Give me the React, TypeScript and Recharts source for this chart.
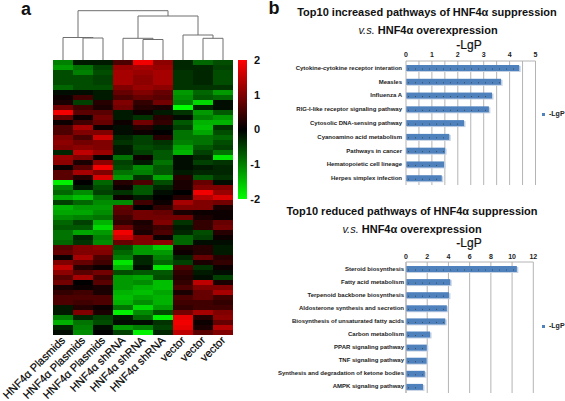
import { Bar, BarChart, Cell, Legend, Scatter, ScatterChart, XAxis, YAxis, CartesianGrid } from "recharts";

const FONT = '"Liberation Sans", Arial, sans-serif';
const BLUE = "#4f81bd";

// heatmap columns, left to right
const sampleLabels = [
  "HNF4α Plasmids", "HNF4α Plasmids", "HNF4α Plasmids",
  "HNF4α shRNA", "HNF4α shRNA", "HNF4α shRNA",
  "vector", "vector", "vector",
];

// z-scores, one line per band, top to bottom
const heatRows = [
  [-1.0, -0.2, -0.2, 0.6, 1.9, 1.1, -0.3, -0.8, -0.6],
  [-1.2, -0.9, -0.5, 1.2, 1.3, 1.2, -0.3, -0.3, -0.5],
  [-0.6, -1.0, -0.6, 1.3, 1.2, 1.3, -0.4, -0.3, -0.6],
  [-0.6, -0.6, -0.5, 1.3, 1.1, 1.3, -0.4, -0.3, -0.6],
  [-0.6, -0.6, -0.5, 1.3, 1.1, 1.3, -0.4, -0.3, -0.6],
  [-0.8, -0.6, -0.6, 1.0, 1.2, 1.1, -0.4, -0.4, -0.4],
  [-0.1, -0.1, -0.2, 0.8, 1.0, 0.8, -1.2, -0.8, -1.2],
  [0.1, 0.5, -0.2, 0.6, 0.8, 0.7, -1.1, -0.7, -0.8],
  [0.2, -0.5, 0.3, 1.0, 0.4, 0.9, -1.0, -1.7, -0.1],
  [0.9, 0.5, 0.2, 0.9, 0.3, 0.2, -2.0, -0.3, -0.1],
  [1.9, 0.7, 0.7, -0.2, 0.1, -0.2, -0.4, -1.2, -0.7],
  [0.8, 0.1, 0.9, -0.2, -0.4, 0.3, -0.1, -1.0, -1.2],
  [0.1, 0.5, 0.8, 0.1, 0.9, 0.4, -0.7, -1.4, -1.4],
  [0.6, 1.3, 0.1, -0.1, 0.3, -0.1, -0.5, -1.5, -0.4],
  [0.6, 1.0, 1.0, -0.1, 0.1, 0.0, -0.9, -1.3, -0.6],
  [1.0, 0.6, 1.6, -0.3, -0.5, 0.3, -0.9, -0.9, -0.8],
  [1.1, 0.9, 1.0, -0.4, -0.5, -0.4, -1.0, -0.9, -0.6],
  [1.0, 1.1, 1.0, -0.2, -0.6, -0.5, -1.3, -0.7, -0.5],
  [-0.3, 1.5, 1.2, -0.2, -0.5, -0.7, -1.4, -0.5, -0.9],
  [1.2, 1.0, 0.1, -0.9, 0.1, -0.7, -0.1, -0.3, -1.8],
  [1.1, 0.2, 1.1, -0.5, -0.2, -0.9, -0.1, -0.5, -0.4],
  [0.1, 0.7, 1.9, -0.6, -1.1, -0.7, -0.1, -0.2, -0.3],
  [0.7, 1.3, 1.0, -0.9, -1.0, -0.7, -0.2, -0.3, -0.3],
  [0.7, 0.3, 1.7, -1.2, -0.4, -1.3, 0.3, -0.7, -0.4],
  [-1.9, 0.0, -0.8, 0.3, 0.6, -0.6, 0.2, 0.8, -0.1],
  [-1.0, -0.2, -0.6, 0.1, -0.7, -0.3, 0.2, 1.0, 1.0],
  [-0.8, -1.1, -0.5, -0.4, -0.7, -0.1, 0.0, 1.9, 1.2],
  [-1.3, -1.5, -0.9, 0.1, -0.2, 0.0, 0.3, 1.4, 1.7],
  [-0.5, -0.8, -1.1, -1.1, 0.5, 0.1, 1.3, 1.0, 0.9],
  [-1.4, -1.2, -1.2, 0.8, 0.0, 0.4, 1.0, 1.0, 0.2],
  [-1.3, -1.3, -1.1, 0.7, 0.9, 0.8, 0.2, 0.1, 0.1],
  [-1.1, -1.0, -0.9, 0.5, 0.9, 0.9, 0.9, 0.2, 0.1],
  [-0.8, -0.5, -1.4, 0.4, 0.2, 1.0, -0.4, 0.4, 0.8],
  [-0.7, -0.7, -1.7, 0.9, 0.3, 0.5, -0.2, 0.4, 0.9],
  [-0.9, -1.3, -1.2, 1.9, 0.2, 0.6, -0.3, -0.6, 0.3],
  [-0.9, -0.3, -1.0, 1.6, 1.0, 0.1, -0.8, -0.5, 0.1],
  [-0.8, -0.4, -1.1, 0.8, 1.0, 1.1, -0.8, -0.1, -0.1],
  [0.7, 1.0, 1.1, -0.6, -1.2, -1.6, 0.2, 0.3, -0.2],
  [0.8, 1.0, 1.0, -0.8, -1.2, -1.2, 0.1, 0.3, -0.2],
  [0.1, 1.3, 0.6, -1.0, -0.3, -1.0, -0.3, 0.8, 0.3],
  [1.0, 0.8, 0.5, -1.8, -0.3, -0.8, -0.5, 0.2, 0.4],
  [1.5, 0.3, 0.1, -1.4, -0.1, -1.8, 0.6, -0.4, 0.1],
  [1.1, 0.7, 0.9, -0.6, -0.7, -0.7, 0.4, -0.2, -0.1],
  [0.7, 1.3, 0.5, -1.2, -1.3, -0.6, 0.3, -0.1, -0.5],
  [0.9, 0.0, 0.7, -1.2, -1.1, -1.5, 0.4, 1.5, 0.2],
  [0.2, 0.1, 0.2, -1.2, -1.4, -1.5, 0.6, 1.0, 1.0],
  [0.4, 0.5, 0.2, -1.4, -1.5, -1.3, 0.2, 0.8, 1.3],
  [0.6, 0.6, 0.6, -1.5, -1.3, -1.4, 0.6, 0.8, 0.5],
  [0.6, 0.5, 0.6, -1.4, -1.1, -1.4, 0.5, 0.5, 0.4],
  [-0.2, 0.3, 0.1, -0.9, -1.7, -1.2, 0.4, 0.5, 0.5],
  [-0.2, 1.0, 0.2, -1.9, -1.1, -0.6, 0.9, 1.3, 1.0],
  [-1.0, -0.3, -0.5, -0.2, -0.8, -1.9, 1.8, 0.3, 1.1],
  [-1.4, -0.9, -0.6, -0.1, -0.1, -0.4, 1.9, 0.1, 0.8],
  [-0.3, -1.0, -0.1, -1.2, -1.0, -0.5, 1.8, 0.2, 1.4],
  [-0.1, -1.1, 0.0, -0.5, -1.9, -0.3, 1.5, 0.7, 1.0],
];

// dendrogram merges: [left x, left height, merge height, right x, right height]
const dendroMerges = [
  [1.5, 0, 22, 2.5, 0],
  [0.5, 0, 22.5, 2, 22],
  [4.5, 0, 20.5, 5.5, 0],
  [3.5, 0, 21.7, 5, 20.5],
  [7.5, 0, 21.7, 8.5, 0],
  [6.5, 0, 25, 8, 21.7],
  [4.25, 21.7, 44, 7.25, 25],
  [1.25, 22.5, 49.3, 5.75, 44],
];

const scaleTicks = [-2, -1, 0, 1, 2];

const increasedNames = [
  "Cytokine-cytokine receptor interation",
  "Measles",
  "Influenza A",
  "RIG-I-like receptor signaling pathway",
  "Cytosolic DNA-sensing pathway",
  "Cyanoamino acid metabolism",
  "Pathways in cancer",
  "Hematopoietic cell lineage",
  "Herpes simplex infection",
];
const increasedValues = [4.37, 3.67, 3.32, 3.2, 2.24, 1.67, 1.51, 1.47, 1.38];
const increasedTicks = [0, 1, 2, 3, 4, 5];
const increasedGrid = [0.5, 1, 1.5, 2, 2.5, 3, 3.5, 4, 4.5, 5];

const reducedNames = [
  "Steroid biosynthesis",
  "Fatty acid metabolism",
  "Terpenoid backbone biosynthesis",
  "Aldosterone synthesis and secretion",
  "Biosynthesis of unsaturated fatty acids",
  "Carbon metabolism",
  "PPAR signaling pathway",
  "TNF signaling pathway",
  "Synthesis and degradation of ketone bodies",
  "AMPK signaling pathway",
];
const reducedValues = [10.45, 4.17, 4.05, 3.85, 3.7, 2.27, 1.96, 1.94, 1.77, 1.6];
const reducedTicks = [0, 2, 4, 6, 8, 10, 12];

const heatColor = (v: number) =>
  v >= 0 ? `rgb(${Math.round(127.5 * v)},0,0)` : `rgb(0,${Math.round(-127.5 * v)},0)`;

const heatTable = heatRows.map((_, i) => {
  const row: Record<string, number> = { row: i };
  sampleLabels.forEach((_, c) => (row[`c${c}`] = 1));
  return row;
});

function Heatmap() {
  return (
    <div style={{ position: "absolute", left: 0, top: 0 }}>
      <BarChart
        width={260}
        height={401}
        layout="vertical"
        data={heatTable}
        barCategoryGap={0}
        barGap={0}
        margin={{ top: 60, left: 53, right: 27, bottom: 0 }}
      >
        <XAxis
          type="number"
          domain={[0, 9]}
          ticks={[0.5, 1.5, 2.5, 3.5, 4.5, 5.5, 6.5, 7.5, 8.5]}
          interval={0}
          height={66}
          axisLine={false}
          tickLine={false}
          tick={(p: any) => (
            <text
              x={p.x + 3}
              y={341}
              transform={`rotate(-45 ${p.x + 3} 341)`}
              textAnchor="end"
              fontFamily={FONT}
              fontSize={11}
              fill="#000"
              stroke="#000"
              strokeWidth={0.2}
            >
              {sampleLabels[Math.floor(p.payload.value)]}
            </text>
          )}
        />
        <YAxis type="category" dataKey="row" hide />
        {sampleLabels.map((_, c) => (
          <Bar key={c} dataKey={`c${c}`} stackId="heat" isAnimationActive={false}>
            {heatRows.map((row, i) => (
              <Cell key={i} fill={heatColor(row[c])} />
            ))}
          </Bar>
        ))}
      </BarChart>
    </div>
  );
}

function Dendrogram() {
  return (
    <div style={{ position: "absolute", left: 53, top: 10 }}>
      <ScatterChart width={180} height={50} margin={{ top: 0, right: 0, bottom: 0, left: 0 }}>
        <XAxis type="number" dataKey="x" domain={[0, 9]} hide />
        <YAxis type="number" dataKey="y" domain={[0, 50]} hide />
        {dendroMerges.map(([x1, h1, top, x2, h2], i) => (
          <Scatter
            key={i}
            data={[
              { x: x1, y: h1 },
              { x: x1, y: top },
              { x: x2, y: top },
              { x: x2, y: h2 },
            ]}
            line={{ stroke: "#6e6e6e", strokeWidth: 1 }}
            shape={() => <g />}
            isAnimationActive={false}
          />
        ))}
      </ScatterChart>
    </div>
  );
}

function ColorScale() {
  return (
    <div style={{ position: "absolute", left: 238, top: 50 }}>
      <BarChart
        width={30}
        height={159}
        data={[{ name: "z", range: [-2, 2] }]}
        barCategoryGap={0}
        margin={{ top: 10, right: 0, bottom: 10, left: 0 }}
      >
        <defs>
          <linearGradient id="redGreen" x1="0" y1="0" x2="0" y2="1">
            <stop offset="0%" stopColor="#ff0000" />
            <stop offset="50%" stopColor="#000000" />
            <stop offset="100%" stopColor="#00ff00" />
          </linearGradient>
        </defs>
        <XAxis dataKey="name" hide />
        <YAxis
          orientation="right"
          type="number"
          domain={[-2, 2]}
          ticks={scaleTicks}
          width={21}
          axisLine={false}
          tickLine={false}
          tick={{ fontFamily: FONT, fontSize: 11, fontWeight: 700, fill: "#111", textAnchor: "end", dx: 5 }}
        />
        <Bar dataKey="range" fill="url(#redGreen)" isAnimationActive={false} />
      </BarChart>
    </div>
  );
}

// bar with its soft shadow and the row of dots that runs along the middle
function DottedBar({ x, y, width, height, fill }: any) {
  return (
    <g>
      <rect x={x + 1} y={y + 1} width={width + 0.5} height={height} fill="#c5d2e4" />
      <rect x={x} y={y} width={width} height={height} fill={fill} />
      <line
        x1={x + 2}
        x2={x + width - 1}
        y1={y + height / 2 + 1}
        y2={y + height / 2 + 1}
        stroke="#3b4a5c"
        strokeWidth={1}
        strokeDasharray="1 6"
      />
    </g>
  );
}

function Pathways({ top, names, values, ticks, grid, max, plotRight, height, legendTop, labelEnd, tickDy }: any) {
  const data = names.map((name: string, i: number) => ({ name, value: values[i] }));
  return (
    <div style={{ position: "absolute", left: 265, top }}>
      <BarChart
        width={320}
        height={height}
        layout="vertical"
        data={data}
        barSize={6}
        margin={{ top: 0, right: 320 - plotRight - 40, bottom: 0, left: 0 }}
      >
        <CartesianGrid horizontal={false} stroke="#b4b4b4" verticalValues={grid} syncWithTicks={false} />
        <XAxis
          type="number"
          orientation="top"
          domain={[0, max]}
          ticks={ticks}
          interval={0}
          height={21}
          axisLine={{ stroke: "#b4b4b4" }}
          tickLine={false}
          tickMargin={0}
          tick={{ fontFamily: FONT, fontSize: 7, fontWeight: 700, fill: "#222", dy: tickDy }}
        />
        <YAxis
          type="category"
          dataKey="name"
          width={141}
          interval={0}
          axisLine={{ stroke: "#b4b4b4" }}
          tickLine={false}
          tick={(p: any) => (
            <text
              x={labelEnd}
              y={p.y + 2}
              textAnchor="end"
              fontFamily={FONT}
              fontSize={6}
              fontWeight={700}
              fill="#222"
            >
              {p.payload.value}
            </text>
          )}
        />
        <Legend
          layout="vertical"
          align="right"
          verticalAlign="middle"
          width={40}
          iconType="square"
          iconSize={3}
          wrapperStyle={{ left: 277, top: legendTop, fontFamily: FONT, fontSize: 7, fontWeight: 700 }}
          formatter={(v: string) => <span style={{ color: "#222" }}>{v}</span>}
        />
        <Bar dataKey="value" name="-LgP" fill={BLUE} shape={DottedBar} isAnimationActive={false} />
      </BarChart>
    </div>
  );
}

function Title({ x, y, size = 11, children, style }: any) {
  return (
    <div
      style={{
        position: "absolute",
        left: x,
        top: y,
        transform: "translate(-50%, -50%)",
        whiteSpace: "nowrap",
        fontFamily: FONT,
        fontWeight: 700,
        fontSize: size,
        color: "#111",
        ...style,
      }}
    >
      {children}
    </div>
  );
}

const VS = <span style={{ fontWeight: 400, fontStyle: "italic" }}>v.s.</span>;
const AXIS_NAME = { fontWeight: 400, fontSize: 12, WebkitTextStroke: "0.2px #111" };

export default function App() {
  return (
    <div style={{ position: "absolute", left: 0, top: 0, width: 565, height: 401, overflow: "hidden", background: "#fff" }}>
      <Heatmap />
      <Dendrogram />
      <ColorScale />
      <Pathways
        top={40}
        height={145}
        names={increasedNames}
        values={increasedValues}
        ticks={increasedTicks}
        grid={increasedGrid}
        max={5}
        plotRight={270.5}
        legendTop={70}
        labelEnd={137}
        tickDy={2}
      />
      <Pathways
        top={241}
        height={152}
        names={reducedNames}
        values={reducedValues}
        ticks={reducedTicks}
        grid={reducedTicks}
        max={12}
        plotRight={268.3}
        legendTop={81}
        labelEnd={139}
        tickDy={3}
      />
      <Title x={26} y={9} size={18}>a</Title>
      <Title x={274} y={8} size={18}>b</Title>
      <Title x={427} y={12}>Top10 increased pathways of HNF4α suppression</Title>
      <Title x={428} y={30}>{VS} HNF4α overexpression</Title>
      <Title x={469} y={45} style={AXIS_NAME}>-LgP</Title>
      <Title x={412} y={211}>Top10 reduced pathways of HNF4α suppression</Title>
      <Title x={412} y={229}>{VS} HNF4α overexpression</Title>
      <Title x={469} y={243} style={AXIS_NAME}>-LgP</Title>
    </div>
  );
}
